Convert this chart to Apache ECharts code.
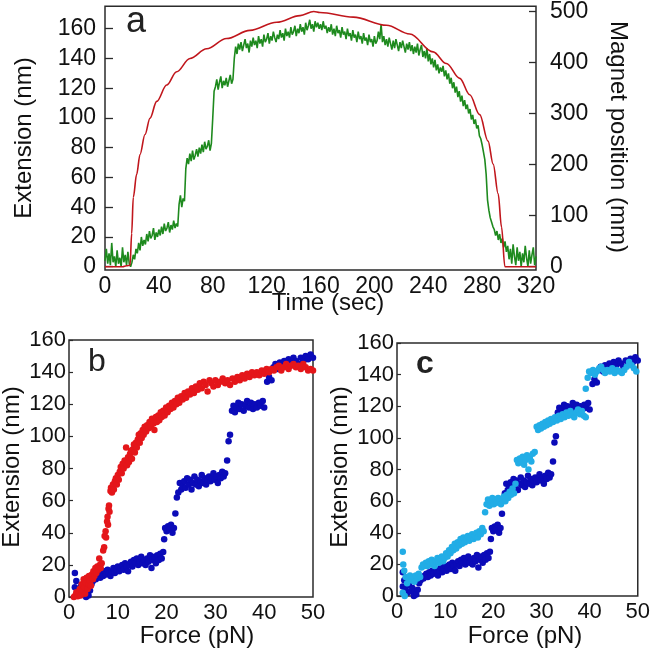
<!DOCTYPE html>
<html><head><meta charset="utf-8">
<script src="https://cdn.jsdelivr.net/npm/echarts@6/dist/echarts.min.js"></script>
<style>html,body{margin:0;padding:0;background:#fff}#c{width:653px;height:649px}</style>
</head><body><div id="c"></div>
<script>
// ---------- Panel a data ----------
// Extension (nm) sampled every 1 s, t = 0..320
const greenExt = [
 4,12,2,9,1,16,3,7,0,11,
 2,6,0,13,3,8,1,10,2,0,
 3,8,5,12,9,16,11,20,14,18,
 15,22,17,24,19,21,26,18,23,20,
 25,21,27,22,29,24,26,30,23,28,
 25,31,26,29,27,42,48,40,46,44,
 66,73,69,76,71,78,72,75,79,74,
 80,76,82,77,84,79,81,85,78,83,
 100,118,121,126,119,124,128,120,125,122,
 127,121,125,129,123,126,140,148,143,150,
 146,151,145,149,153,147,150,144,152,148,
 154,149,152,147,155,150,153,148,156,151,
 153,157,150,155,152,158,154,151,156,153,
 159,154,157,152,160,155,158,154,161,156,
 158,162,155,160,157,163,158,161,156,164,
 159,162,166,160,163,158,165,161,164,160,
 163,159,165,160,162,157,161,158,163,156,
 160,155,162,157,159,154,161,156,158,153,
 160,155,157,152,159,154,156,151,158,153,
 155,150,157,152,154,149,156,151,153,148,
 155,150,152,158,153,163,151,155,149,153,
 148,154,150,146,152,147,153,149,145,151,
 147,152,148,144,150,146,151,145,149,143,
 148,144,150,142,146,149,141,145,140,147,
 138,143,136,140,134,139,132,136,130,134,
 131,135,128,132,126,130,123,127,120,124,
 117,121,114,118,111,115,108,112,106,109,
 103,106,99,102,96,99,93,95,88,86,
 82,77,72,62,45,38,33,30,27,25,
 21,24,18,22,16,19,13,17,10,14,
 5,12,2,15,7,1,13,4,10,0,
 9,3,14,6,0,11,2,8,13,1,7
];
// Magnet position (mm) vs time (sec)
const magnetT = [0,13,16,18.6,19.8,21.0,23.5,26,29.7,33.4,38.4,45.8,53.2,63.1,75.5,90.3,107.6,127.5,144.8,155,159.6,184.3,209,226.3,243.6,253.5,263.4,270.8,278.2,284.4,288.2,291.9,294.4,296.9,320];
const magnetPos = [0,0,2,3,65,136,181,220,259,291,324,356,382,408,427,447,463,479,492,500,498,489,473,456,421,398,369,337,298,246,201,143,78,0,0];
const timeTicks = [0,40,80,120,160,200,240,280,320];
const extTicksA = [0,20,40,60,80,100,120,140,160];
const magnetTicks = [0,100,200,300,400,500];

// ---------- Panels b, c data: [Force (pN), Extension (nm)] ----------
const redPts = [
 [1.0,0],[1.3,1],[1.5,3],[1.8,0.5],[2.0,2],[2.2,5],[2.4,1],[2.6,8],[2.8,4],[3.0,11],[3.1,6],[3.3,2],[3.5,9],[3.6,12],[3.8,5],[4.0,8],[4.1,13],[4.3,10],[4.5,7],[4.7,14],[4.9,11],[5.0,16],[5.2,13],[5.4,18],[5.6,15],[5.8,19],[6.0,17],[6.2,24],[6.3,20],[6.5,18],[6.7,21],
 [7.0,29],[7.2,31],[7.3,38],[7.5,41],[7.6,37],[7.8,47],[7.9,50],[8.0,45],[8.1,55],[8.2,57],[8.3,53],[8.5,66],[8.6,68],[8.8,65],[9.0,70],[9.2,67],[9.4,72],
 [9.6,74],[9.8,70],[10.0,76],[10.2,73],[10.4,78],[10.6,81],[10.8,77],[11.0,83],[11.2,80],[11.4,85],[11.7,93],[11.9,82],[12.1,87],[12.3,84],[12.5,89],[12.7,91],[12.9,86],[13.1,92],[13.3,95],[13.5,90],[13.7,96],[13.9,93],[14.1,98],[14.3,101],[14.5,96],[14.7,102],[14.9,99],[15.1,104],[15.3,101],[15.5,106],[15.8,103],[16.0,107],[16.3,105],[16.5,109],[16.8,106],[17.0,111],[17.3,108],[17.5,104],[17.8,112],[18.0,109],[18.3,113],[18.5,110],[18.8,115],[19.0,112],[19.3,116],[19.6,113],[19.9,118],[20.2,115],[20.5,119],[20.8,117],[21.1,121],[21.4,118],[21.7,122],[22.0,120],[22.3,124],[22.6,121],[23.0,125],[23.3,123],[23.7,127],[24.0,124],[24.4,128],[24.8,126],[25.2,130],[25.6,127],[26.0,131],[26.4,129],[26.8,133],[27.2,130],[27.6,134],[28.0,132],[28.4,128],[28.8,135],[29.2,133],[29.6,131],[30.0,135],[30.5,132],[31.0,134],[31.5,136],[32.0,133],[32.5,135],[33.0,132],[33.5,136],[34.0,134],[34.5,137],[35.0,135],[35.5,138],[36.0,136],[36.5,139],[37.0,137],[37.5,140],[38.0,138],[38.5,140],[39.0,138],[39.5,141],[40.0,139],[40.5,142],[41.0,140],[41.5,142],[42.0,141],[42.5,143],[43.0,144],[43.5,141],[44.0,143],[44.5,145],[45.0,142],[45.5,144],[46.0,145],[46.5,143],[47.0,144],[47.5,142],[48.0,145],[48.5,143],[49.0,141],[49.5,142],[50.0,141]
];
const bluePts = [
 [1.2,15],[1.2,6],[1.5,10],[1.8,4],[2.2,2],[2.5,7],[2.8,3],[3.2,5],[3.5,0],[3.7,3],[4.0,1],[4.3,4],[4.6,8],[4.9,10],[5.2,12],[5.5,11],[5.8,13],[6.1,14],[6.4,12],[6.7,15],[7.0,13],[7.3,16],[7.6,14],[7.9,17],[8.2,15],[8.5,13],[8.8,16],[9.1,18],[9.4,15],[9.7,17],[10.0,19],[10.3,16],[10.6,18],[10.9,20],[11.2,17],[11.5,21],[11.8,19],[12.1,16],[12.4,20],[12.7,22],[13.0,19],[13.3,23],[13.6,21],[13.9,24],[14.2,20],[14.5,22],[14.8,25],[15.1,21],[15.4,23],[15.7,20],[16.0,24],[16.3,22],[16.6,26],[16.9,18],[17.2,23],[17.5,25],[17.8,21],[18.1,26],[18.4,23],[18.7,27],[19.0,24],[19.3,28],
 [19.5,36],[19.7,43],[20.0,41],[20.3,44],[20.6,42],[20.9,45],[21.2,40],[21.5,43],[21.8,52],[22.1,62],[22.4,65],[22.7,71],[23.0,67],[23.3,69],[23.6,72],[23.9,68],[24.2,74],[24.5,70],[24.8,73],[25.1,67],[25.4,71],[25.7,75],[26.0,70],[26.3,73],[26.6,69],[26.9,72],[27.2,76],[27.5,71],[27.8,74],[28.1,70],[28.4,73],[28.7,75],[29.0,72],[29.3,74],[29.6,77],[29.9,73],[30.2,75],[30.5,71],[30.8,76],[31.1,74],[31.4,78],[31.7,75],[32.0,77],
 [32.4,85],[32.7,97],[33.0,101],[33.4,116],[33.7,119],[34.0,115],[34.3,118],[34.7,121],[35.0,117],[35.4,120],[35.8,116],[36.2,119],[36.5,122],[36.9,118],[37.3,121],[37.7,117],[38.1,120],[38.5,118],[38.9,121],[39.3,119],[39.7,122],[40.0,118],
 [40.6,134],[41.0,137],[41.5,135],[41.9,143],[42.3,145],[42.8,142],[43.2,146],[43.7,144],[44.1,147],[44.6,145],[45.0,148],[45.5,146],[46.0,149],[46.5,147],[47.0,145],[47.5,149],[48.0,147],[48.5,150],[49.0,148],[49.5,151],[50.0,149]
];
const cyanPts = [
 [1.2,28],[1.3,20],[1.5,16],[1.2,2],[1.6,0],[1.8,12],[2.1,8],[2.4,11],[2.7,13],[3.0,10],[3.3,12],[3.6,9],[3.9,13],[4.2,11],[4.5,14],[4.8,12],[5.1,18],[5.4,20],[5.7,19],[6.0,21],[6.3,19],[6.6,22],[6.9,20],[7.2,23],[7.5,21],[7.8,19],[8.1,22],[8.4,24],[8.7,21],[9.0,23],[9.3,25],[9.6,22],[9.9,24],[10.2,27],[10.5,25],[10.8,29],[11.1,27],[11.4,31],[11.7,29],[12.0,33],[12.3,30],[12.6,34],[12.9,32],[13.2,36],[13.5,33],[13.8,37],[14.1,34],[14.4,36],[14.7,38],[15.0,35],[15.3,37],[15.6,39],[15.9,36],[16.2,38],[16.5,40],[16.8,37],[17.1,41],[17.4,39],[17.7,43],[18.0,41],
 [18.3,53],[18.6,58],[18.9,61],[19.2,57],[19.5,60],[19.8,62],[20.1,58],[20.4,61],[20.7,59],[21.0,62],[21.3,60],[21.6,58],[21.9,61],[22.2,63],[22.5,60],[22.8,64],[23.1,62],[23.4,66],[23.7,64],[24.0,68],[24.3,65],[24.6,71],
 [24.9,86],[25.2,84],[25.5,87],[25.8,85],[26.1,88],[26.4,83],[26.7,86],[27.0,89],[27.3,80],[27.6,87],[27.9,85],[28.2,90],[28.6,91],
 [29.0,107],[29.3,105],[29.6,108],[29.9,106],[30.2,109],[30.5,107],[30.8,110],[31.1,108],[31.4,111],[31.7,109],[32.0,112],[32.4,110],[32.8,113],[33.2,111],[33.6,114],[34.0,112],[34.4,115],[34.8,113],[35.2,116],[35.6,114],[36.0,117],[36.4,115],[36.8,113],[37.2,116],[37.6,118],[38.0,115],[38.4,117],[38.8,114],[39.2,113],
 [39.2,131],[39.6,138],[39.9,142],[40.3,141],[40.7,143],[41.1,140],[41.5,142],[42.0,144],[42.4,145],[42.8,143],[43.2,141],[43.7,143],[44.2,142],[44.7,144],[45.2,141],[45.7,143],[46.2,142],[46.7,141],[47.2,143],[47.7,145],[48.2,148],[48.7,146],[49.2,144],[49.7,142]
];

// ---------- build ----------
const FONT = '"Liberation Sans", Arial, Helvetica, sans-serif';
const TXT = '#111';
const FRAME = '#2b2b2b';
const greenData = greenExt.map((v, i) => [i, v]);
const magnetData = magnetT.map((t, i) => [t, magnetPos[i]]);

function lbl(size, margin, extra) {
  return Object.assign({ fontSize: size, color: TXT, fontFamily: FONT, margin: margin }, extra || {});
}
const gridStyle = { show: true, borderColor: FRAME, borderWidth: 1.5, backgroundColor: 'transparent' };

const chart = echarts.init(document.getElementById('c'), null, { renderer: 'canvas' });
chart.setOption({
  animation: false,
  backgroundColor: '#fff',
  grid: [
    Object.assign({ left: 105, top: 4, width: 431, height: 266 }, gridStyle),
    Object.assign({ left: 69, top: 340, width: 244, height: 257 }, gridStyle),
    Object.assign({ left: 397, top: 343, width: 244, height: 253 }, gridStyle)
  ],
  xAxis: [
    { gridIndex: 0, type: 'value', min: 0, max: 320, interval: 40,
      axisLine: { show: false }, axisTick: { show: false }, splitLine: { show: false },
      axisLabel: lbl(23, 5) },
    { gridIndex: 1, type: 'value', min: 0, max: 50, interval: 10,
      axisLine: { show: false }, axisTick: { show: false }, splitLine: { show: false },
      axisLabel: lbl(22, 5) },
    { gridIndex: 2, type: 'value', min: 0, max: 50, interval: 10,
      axisLine: { show: false }, axisTick: { show: false }, splitLine: { show: false },
      axisLabel: lbl(22, 5) }
  ],
  yAxis: [
    { gridIndex: 0, type: 'value', min: -2.2, max: 175.1,
      axisLine: { show: false }, splitLine: { show: false },
      axisTick: { show: true, inside: true, length: 8, customValues: extTicksA, lineStyle: { color: FRAME, width: 1.3 } },
      axisLabel: lbl(23, 9, { customValues: extTicksA }) },
    { gridIndex: 0, type: 'value', position: 'right', min: -6.4, max: 510.3,
      axisLine: { show: false }, splitLine: { show: false },
      axisTick: { show: true, inside: true, length: 7, customValues: magnetTicks, lineStyle: { color: FRAME, width: 1.3 } },
      axisLabel: lbl(23, 14, { customValues: magnetTicks }) },
    { gridIndex: 1, type: 'value', min: 0, max: 160, interval: 20,
      axisLine: { show: false }, splitLine: { show: false },
      axisTick: { show: true, inside: true, length: 4, lineStyle: { color: FRAME, width: 1.2 } },
      axisLabel: lbl(22, 3) },
    { gridIndex: 2, type: 'value', min: 0, max: 160, interval: 20,
      axisLine: { show: false }, splitLine: { show: false },
      axisTick: { show: true, inside: true, length: 4, lineStyle: { color: FRAME, width: 1.2 } },
      axisLabel: lbl(22, 3) }
  ],
  series: [
    { type: 'line', xAxisIndex: 0, yAxisIndex: 0, data: greenData, showSymbol: false,
      lineStyle: { color: '#1e8a1e', width: 1.6 }, silent: true },
    { type: 'line', xAxisIndex: 0, yAxisIndex: 1, data: magnetData, showSymbol: false,
      smooth: 0.35, smoothMonotone: 'x',
      lineStyle: { color: '#c0161c', width: 1.6 }, silent: true },
    { type: 'scatter', xAxisIndex: 1, yAxisIndex: 2, data: bluePts, symbolSize: 6.5,
      itemStyle: { color: '#0b0bb8', opacity: 1 }, silent: true },
    { type: 'scatter', xAxisIndex: 1, yAxisIndex: 2, data: redPts, symbolSize: 6.5,
      itemStyle: { color: '#e4161a', opacity: 1 }, silent: true },
    { type: 'scatter', xAxisIndex: 2, yAxisIndex: 3, data: bluePts, symbolSize: 6.5,
      itemStyle: { color: '#0b0bb8', opacity: 1 }, silent: true },
    { type: 'scatter', xAxisIndex: 2, yAxisIndex: 3, data: cyanPts, symbolSize: 6.5,
      itemStyle: { color: '#22ade6', opacity: 1 }, silent: true }
  ],
  graphic: [
    { type: 'text', x: 136, y: 22, style: { text: 'a', font: '36px ' + FONT, fill: '#222', textAlign: 'center', textVerticalAlign: 'middle' } },
    { type: 'text', x: 97, y: 362, style: { text: 'b', font: '32px ' + FONT, fill: '#222', textAlign: 'center', textVerticalAlign: 'middle' } },
    { type: 'text', x: 425, y: 364, style: { text: 'c', font: 'bold 32px ' + FONT, fill: '#222', textAlign: 'center', textVerticalAlign: 'middle' } },
    { type: 'text', x: 24, y: 138, rotation: Math.PI / 2, style: { text: 'Extension (nm)', font: '24px ' + FONT, fill: TXT, textAlign: 'center', textVerticalAlign: 'middle' } },
    { type: 'text', x: 618, y: 137, rotation: -Math.PI / 2, style: { text: 'Magnet position (mm)', font: '24px ' + FONT, fill: TXT, textAlign: 'center', textVerticalAlign: 'middle' } },
    { type: 'text', x: 328, y: 303, style: { text: 'Time (sec)', font: '24px ' + FONT, fill: TXT, textAlign: 'center', textVerticalAlign: 'middle' } },
    { type: 'text', x: 12, y: 467, rotation: Math.PI / 2, style: { text: 'Extension (nm)', font: '24px ' + FONT, fill: TXT, textAlign: 'center', textVerticalAlign: 'middle' } },
    { type: 'text', x: 197, y: 636, style: { text: 'Force (pN)', font: '24px ' + FONT, fill: TXT, textAlign: 'center', textVerticalAlign: 'middle' } },
    { type: 'text', x: 340, y: 467, rotation: Math.PI / 2, style: { text: 'Extension (nm)', font: '24px ' + FONT, fill: TXT, textAlign: 'center', textVerticalAlign: 'middle' } },
    { type: 'text', x: 525, y: 636, style: { text: 'Force (pN)', font: '24px ' + FONT, fill: TXT, textAlign: 'center', textVerticalAlign: 'middle' } }
  ]
});
</script>
</body></html>
